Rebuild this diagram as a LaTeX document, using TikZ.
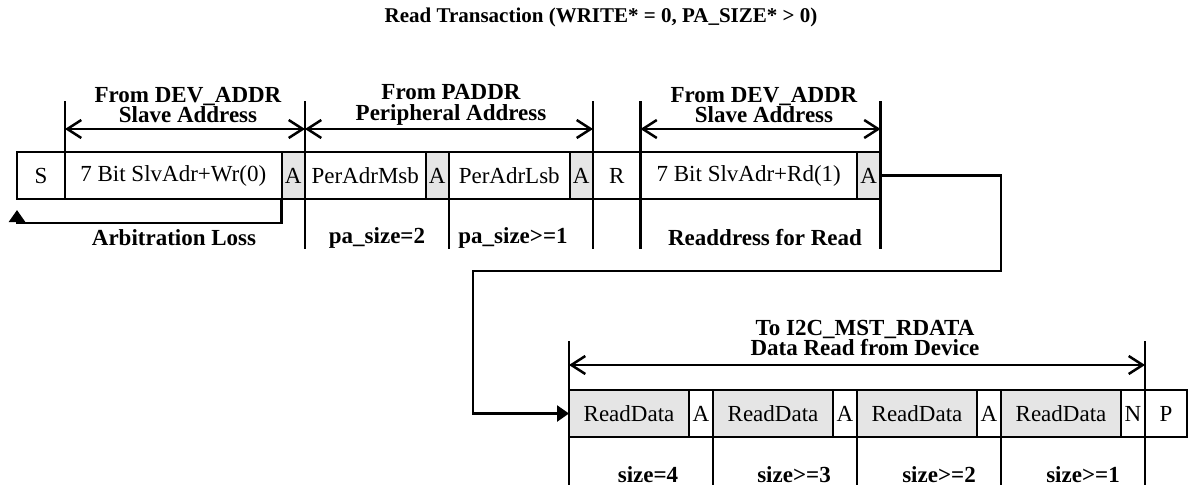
\documentclass[tikz,border=0pt]{standalone}
\usepackage{fontspec}
\setmainfont{Liberation Serif}
\usetikzlibrary{arrows.meta,positioning}

\begin{document}
\begin{tikzpicture}
    [
      x=1pt, y=-1pt,
      cell/.style={draw,line width=2pt,minimum height=47pt,inner sep=0pt,outer sep=0pt,font=\fontsize{23}{26}\selectfont},
      ack/.style={cell,fill=black!10,minimum width=23.5pt},
      bit/.style={cell,minimum width=24pt},
      data/.style={cell,fill=black!10,minimum width=120pt},
      sep/.style={line width=2.5pt},
      span/.style={{Straight Barb[length=14pt,width=18pt]}-{Straight Barb[length=14pt,width=18pt]},line width=2.5pt},
      flow/.style={-{Triangle[length=12pt,width=16pt]},line width=2.5pt},
      note/.style={font=\bfseries\fontsize{23}{20.5}\selectfont,align=center},
    ]
    \useasboundingbox (0,0) rectangle (1188,487);

    \node (title) [font=\bfseries\fontsize{21}{24}\selectfont] at (601,17) {Read Transaction (WRITE* = 0, PA\_SIZE* > 0)};

    % address phase
    \node (s) [cell,minimum width=48pt,anchor=north west] at (17,152) {S};
    \node (wr) [cell,minimum width=216.5pt,right=0pt of s] {7 Bit SlvAdr+Wr(0)};
    \node (a1) [ack,right=0pt of wr] {A};
    \node (msb) [cell,minimum width=120.5pt,right=0pt of a1] {PerAdrMsb};
    \node (a2) [ack,right=0pt of msb] {A};
    \node (lsb) [cell,minimum width=120.5pt,right=0pt of a2] {PerAdrLsb};
    \node (a3) [ack,right=0pt of lsb] {A};
    \node (r) [cell,minimum width=47.5pt,right=0pt of a3] {R};
    \node (rd) [cell,minimum width=216.5pt,right=0pt of r] {7 Bit SlvAdr+Rd(1)};
    \node (a4) [ack,right=0pt of rd] {A};

    % data phase
    \node (d1) [data,anchor=north west] at (569,390) {ReadData};
    \node (b1) [bit,right=0pt of d1] {A};
    \node (d2) [data,right=0pt of b1] {ReadData};
    \node (b2) [bit,right=0pt of d2] {A};
    \node (d3) [data,right=0pt of b2] {ReadData};
    \node (b3) [bit,right=0pt of d3] {A};
    \node (d4) [data,right=0pt of b3] {ReadData};
    \node (n) [bit,right=0pt of d4] {N};
    \node (p) [cell,minimum width=42pt,right=0pt of n] {P};

    \coordinate (top-a) at (0,101);
    \coordinate (arr-a) at (0,129);
    \coordinate (bot-a) at (0,249);
    \coordinate (top-d) at (0,341);
    \coordinate (arr-d) at (0,365);
    \coordinate (bot-d) at (0,485);

    \draw [sep] (wr.north west) -- (wr.north west |- top-a);
    \draw [sep] (a1.north east |- top-a) -- (a1.north east |- bot-a);
    \draw [sep] (lsb.south west) -- (lsb.south west |- bot-a);
    \draw [sep] (a3.north east |- top-a) -- (a3.north east |- bot-a);
    \draw [sep] (rd.north west |- top-a) -- (rd.north west |- bot-a);
    \draw [sep] (a4.north east |- top-a) -- (a4.north east |- bot-a);

    \draw [sep] (d1.north west |- top-d) -- (d1.north west |- bot-d);
    \draw [sep] (b1.south east) -- (b1.south east |- bot-d);
    \draw [sep] (b2.south east) -- (b2.south east |- bot-d);
    \draw [sep] (b3.south east) -- (b3.south east |- bot-d);
    \draw [sep] (n.north east |- top-d) -- (n.north east |- bot-d);

    \draw [span] (wr.north west |- arr-a) -- (a1.north east |- arr-a);
    \draw [span] (msb.north west |- arr-a) -- (a3.north east |- arr-a);
    \draw [span] (rd.north west |- arr-a) -- (a4.north east |- arr-a);
    \draw [span] (d1.north west |- arr-d) -- (n.north east |- arr-d);

    \node (from-slv) [note] at (188,105) {From DEV\_ADDR\\Slave Address};
    \node (from-per) [note] at (451,105) {From PADDR\\Peripheral Address};
    \node (from-re) [note] at (764,105) {From DEV\_ADDR\\Slave Address};
    \node (to-data) [note] at (865,338) {To I2C\_MST\_RDATA\\Data Read from Device};

    \node (arb) [note] at (174,238) {Arbitration Loss};
    \node (pa2) [note] at (377,238) {pa\_size=2};
    \node (pa1) [note] at (513,238) {pa\_size>=1};
    \node (readdr) [note] at (765,238) {Readdress for Read};
    \node (sz4) [note] at (648,475) {size=4};
    \node (sz3) [note] at (794,475) {size>=3};
    \node (sz2) [note] at (939,475) {size>=2};
    \node (sz1) [note] at (1083,475) {size>=1};

    \coordinate (loss) at (0,223);
    \coordinate (turn) at (1001,271);
    \coordinate (back) at (473,271);

    \draw [flow,shorten >=11pt] (a1.south west) -- (a1.south west |- loss) -| (s.south west);
    \draw [flow] (a4.east) -| (turn) -- (back) |- (d1.west);

\end{tikzpicture}
\end{document}
